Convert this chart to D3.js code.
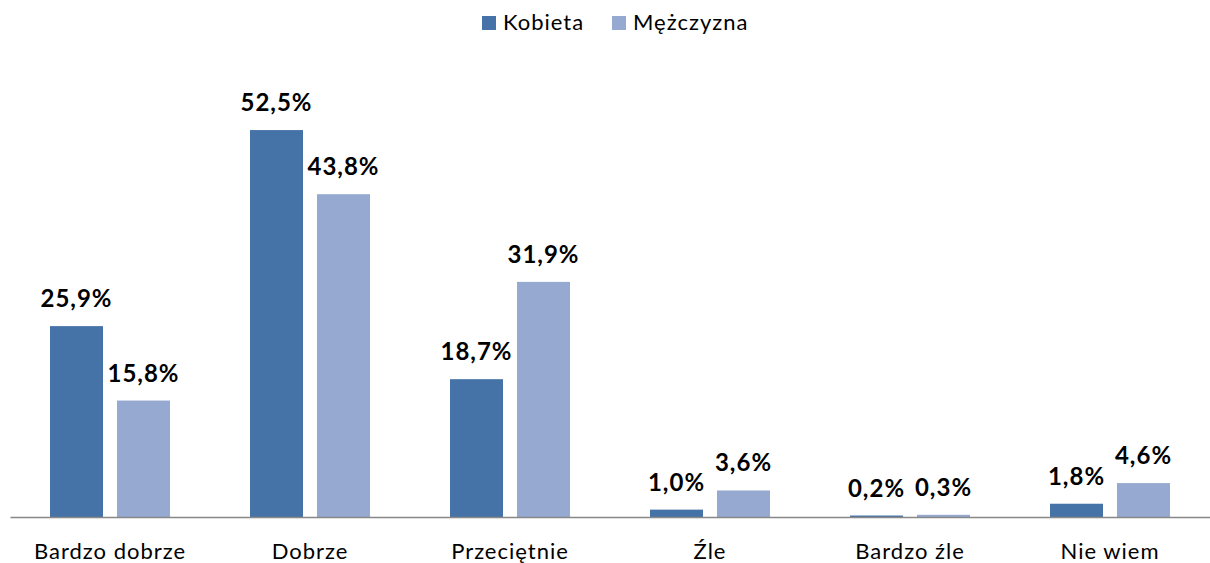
<!DOCTYPE html>
<html>
<head>
<meta charset="utf-8">
<script src="https://cdn.jsdelivr.net/npm/d3@7"></script>
<style>
  body { margin: 0; background: #fff; }
  text { font-family: Lato, "Open Sans", sans-serif; letter-spacing: 1px; }
</style>
</head>
<body>
<script>
// dane
const categories = ["Bardzo dobrze", "Dobrze", "Przeciętnie", "Źle", "Bardzo źle", "Nie wiem"];
const seriesNames = ["Kobieta", "Mężczyzna"];
const kobieta = [25.9, 52.5, 18.7, 1.0, 0.2, 1.8];
const mezczyzna = [15.8, 43.8, 31.9, 3.6, 0.3, 4.6];
const colors = ["#4572a7", "#95a9d1"];

const width = 1210;
const height = 563;
const baseline = 517;

const svg = d3.select("body").append("svg")
  .attr("width", width)
  .attr("height", height);

const x = d3.scaleBand()
  .domain(categories)
  .range([10, 1210])
  .padding(0);

const xs = d3.scaleBand()
  .domain(seriesNames)
  .range([40, 160])
  .paddingInner(0.209)
  .paddingOuter(0);

const y = d3.scaleLinear()
  .domain([0, 60])
  .range([baseline, baseline - 60 * 7.37]);

const rows = categories.map((c, i) => ({
  cat: c,
  values: [
    { name: seriesNames[0], v: kobieta[i] },
    { name: seriesNames[1], v: mezczyzna[i] }
  ]
}));

const groups = svg.selectAll(".grp")
  .data(rows)
  .enter().append("g")
  .attr("class", "grp")
  .attr("transform", d => `translate(${x(d.cat)},0)`);

groups.selectAll("rect")
  .data(d => d.values)
  .enter().append("rect")
  .attr("x", d => xs(d.name))
  .attr("y", d => y(d.v))
  .attr("width", xs.bandwidth())
  .attr("height", d => baseline - y(d.v))
  .attr("fill", (d, i) => colors[i]);

groups.selectAll(".lbl")
  .data(d => d.values)
  .enter().append("text")
  .attr("class", "lbl")
  .attr("x", d => xs(d.name) + xs.bandwidth() / 2)
  .attr("y", d => y(d.v) - 19)
  .attr("text-anchor", "middle")
  .style("font-size", "24px")
  .style("font-weight", "bold")
  .style("fill", "#000")
  .text(d => d.v.toFixed(1).replace(".", ",") + "%");

// oś x
const xAxis = d3.axisBottom(x).tickSize(0).tickPadding(0);
const ax = svg.append("g")
  .attr("transform", `translate(0,${baseline})`)
  .call(xAxis);
ax.select(".domain").attr("stroke", "#888").attr("stroke-width", 1.5);
ax.selectAll(".tick text")
  .attr("y", 42)
  .attr("dy", 0)
  .style("font-size", "22px")
  .style("font-family", "Lato, 'Open Sans', sans-serif")
  .style("fill", "#000");

// legenda
const legend = svg.append("g");
const legendX = [482, 612];
seriesNames.forEach((s, i) => {
  legend.append("rect")
    .attr("x", legendX[i])
    .attr("y", 16)
    .attr("width", 14)
    .attr("height", 14)
    .attr("fill", colors[i]);
  legend.append("text")
    .attr("x", legendX[i] + 21)
    .attr("y", 30)
    .style("font-size", "22px")
    .style("fill", "#000")
    .text(s);
});
</script>
</body>
</html>
